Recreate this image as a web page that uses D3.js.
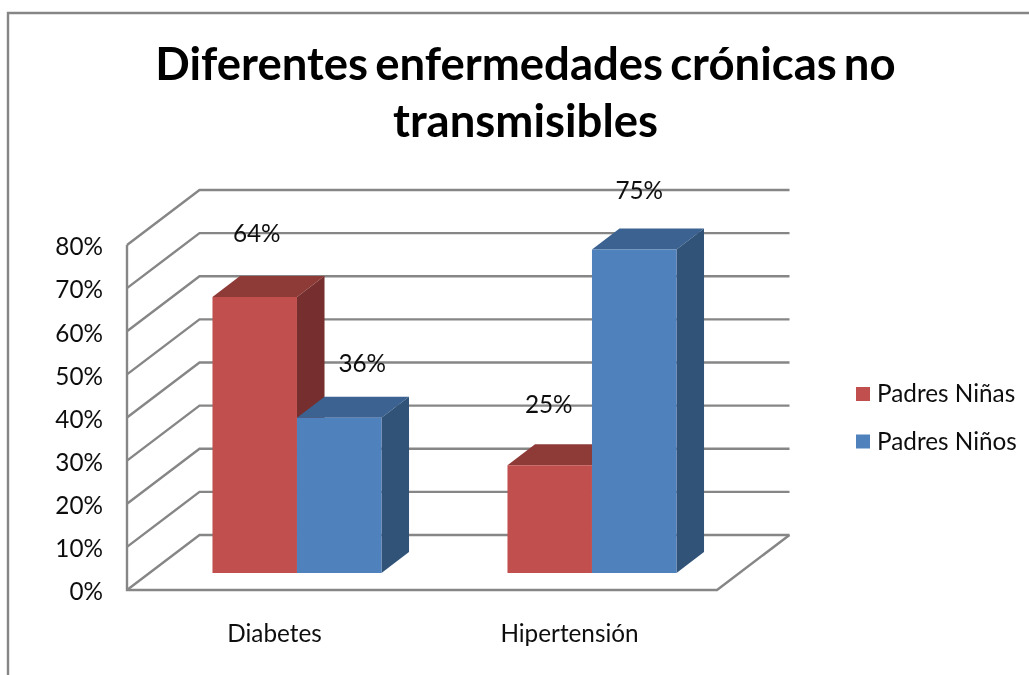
<!DOCTYPE html>
<html><head><meta charset="utf-8">
<script src="https://cdn.jsdelivr.net/npm/d3@7"></script>
<style>html,body{margin:0;padding:0;background:#fff;overflow:hidden}svg{display:block}text{font-family:Lato,"Open Sans",sans-serif}</style>
</head><body>
<svg id="c" width="1029" height="675"></svg>
<script>
const categories = ["Diabetes", "Hipertensión"];
const seriesNames = ["Padres Niñas", "Padres Niños"];
const valuesNinas = [64, 25];
const valuesNinos = [36, 75];
const tickValues = [0, 10, 20, 30, 40, 50, 60, 70, 80];
const titleLines = ["Diferentes enfermedades crónicas no", "transmisibles"];
const faceFront = ["#C0504D", "#4F81BD"];
const faceTop = ["#8E3A38", "#3A6291"];
const faceSide = ["#772F2D", "#305278"];

const svg = d3.select("#c");
const defs = svg.append("defs");
defs.append("filter").attr("id","soft").attr("x","-5%").attr("y","-5%").attr("width","110%").attr("height","110%")
  .append("feGaussianBlur").attr("stdDeviation",0.6);
const root = svg.append("g").attr("filter","url(#soft)");

const grey = "#868686";
// outer frame
root.append("path").attr("d","M8,676V13H1030").attr("fill","none").attr("stroke",grey).attr("stroke-width",2.4);

// title
root.append("g").selectAll("text").data(titleLines).join("text")
  .attr("x",525.5).attr("y",(d,i)=>80+i*57)
  .attr("text-anchor","middle").attr("font-size",45.5).attr("font-weight",700).attr("fill","#000")
  .attr("word-spacing",-4)
  .text(d=>d);

// scales
const x = d3.scaleBand().domain(categories).range([127,717]);
const y = d3.scaleLinear().domain([0,80]).range([590,245]);
const depthX = d3.scaleLinear().domain([0,1]).range([0,72.5]);
const depthY = d3.scaleLinear().domain([0,1]).range([0,-55]);
const zFront = 0.31, zBack = 0.69;
const barW = 84.5;
const pt = (px,py,z)=>[px+depthX(z), py+depthY(z)];
const poly = pts=>pts.map(p=>p.map(v=>v.toFixed(2)).join(",")).join(" ");

// gridlines: walls and floor
const grid = root.append("g").attr("fill","none").attr("stroke",grey).attr("stroke-width",2.4);
grid.selectAll("path").data(tickValues).join("path")
  .attr("d",t=>{
    const a=[127,y(t)], b=pt(127,y(t),1), c=pt(717,y(t),1);
    return `M${a}L${b}L${c}`;
  });
grid.append("path").attr("d",`M127,${y(80)}V${y(0)}H717L${pt(717,y(0),1)}`);

// bars
const seriesValues = [valuesNinas, valuesNinos];
seriesNames.forEach((name,s)=>{
  const g = root.append("g").attr("class","series");
  categories.forEach((cat,ci)=>{
    const v = seriesValues[s][ci];
    const cx = x(cat)+x.bandwidth()/2;
    const x0 = cx+(s-1)*barW, x1 = x0+barW;
    const y0 = y(0), yv = y(v);
    g.append("polygon").attr("fill",faceTop[s])
      .attr("points",poly([pt(x0,yv,zFront),pt(x1,yv,zFront),pt(x1,yv,zBack),pt(x0,yv,zBack)]));
    g.append("polygon").attr("fill",faceSide[s])
      .attr("points",poly([pt(x1,yv,zFront),pt(x1,yv,zBack),pt(x1,y0,zBack),pt(x1,y0,zFront)]));
    g.append("polygon").attr("fill",faceFront[s])
      .attr("points",poly([pt(x0,yv,zFront),pt(x1,yv,zFront),pt(x1,y0,zFront),pt(x0,y0,zFront)]));
  });
});

// data labels (hand-placed in the original, so each carries its own nudge)
const labelNudge = [[[2,-55],[23,-46]],[[-1,-52],[5,-51]]];
seriesNames.forEach((name,s)=>{
  categories.forEach((cat,ci)=>{
    const v = seriesValues[s][ci];
    const cx = x(cat)+x.bandwidth()/2;
    const p = pt(cx+(s-0.5)*barW, y(v), zFront);
    const n = labelNudge[ci][s];
    root.append("text").attr("x",p[0]+n[0]).attr("y",p[1]+n[1])
      .attr("text-anchor","middle").attr("font-size",24.3).attr("fill","#111").text(v+"%");
  });
});

// axes
const yAxis = d3.axisLeft(y).tickValues(tickValues).tickFormat(d=>d+"%").tickSize(0).tickPadding(24);
const ya = root.append("g").attr("transform","translate(127,1)").call(yAxis);
ya.select(".domain").remove();
ya.selectAll("text").attr("font-size",24.3).attr("fill","#111").style("font-family","Lato").attr("dy","0.36em");

const xAxis = d3.axisBottom(x).tickSize(0).tickPadding(35);
const xa = root.append("g").attr("transform","translate(0,590)").call(xAxis);
xa.select(".domain").remove();
xa.selectAll("text").attr("font-size",24.3).attr("fill","#111").style("font-family","Lato");

// legend
const lg = root.append("g").selectAll("g").data(seriesNames).join("g")
  .attr("transform",(d,i)=>`translate(856,${387+i*47.5})`);
lg.append("rect").attr("width",14).attr("height",14).attr("fill",(d,i)=>faceFront[i]);
lg.append("text").attr("x",21).attr("y",15).attr("font-size",24.3).attr("fill","#111").text(d=>d);
</script>
</body></html>
